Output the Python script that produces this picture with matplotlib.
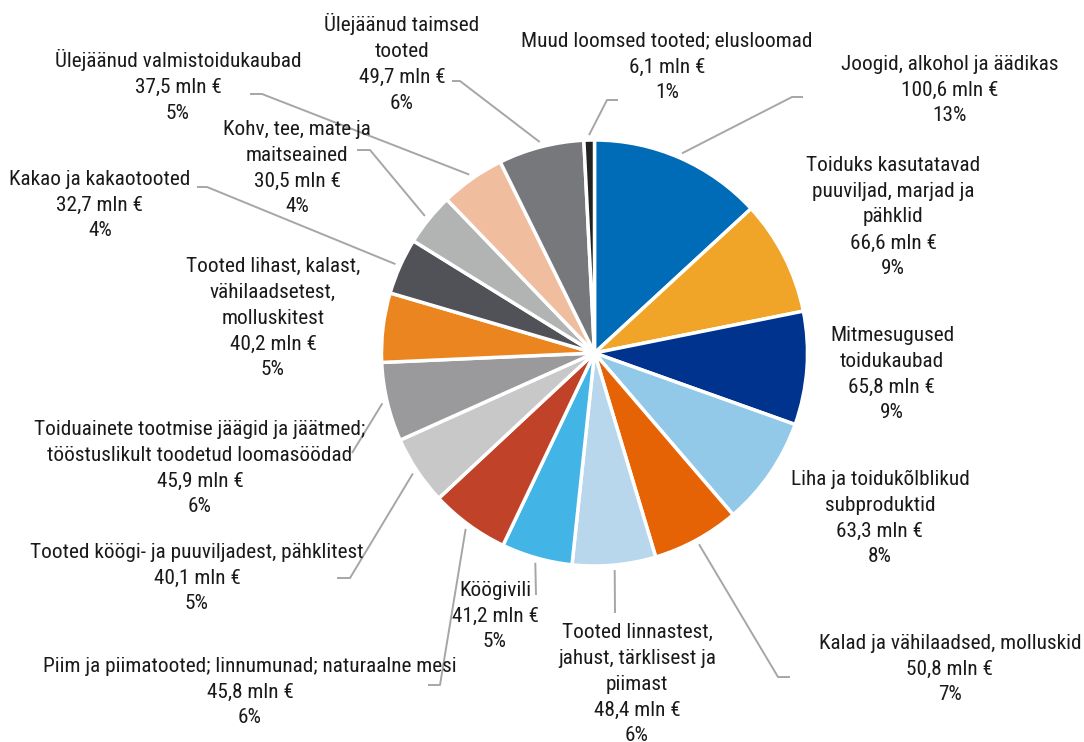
import matplotlib
matplotlib.use("Agg")
import matplotlib.pyplot as plt
from matplotlib import font_manager
import numpy as np


# data (mln €), clockwise from 12 o'clock
CATEGORIES = [
    "Joogid, alkohol ja äädikas",
    "Toiduks kasutatavad\npuuviljad, marjad ja\npähklid",
    "Mitmesugused\ntoidukaubad",
    "Liha ja toidukõlblikud\nsubproduktid",
    "Kalad ja vähilaadsed, molluskid",
    "Tooted linnastest,\njahust, tärklisest ja\npiimast",
    "Köögivili",
    "Piim ja piimatooted; linnumunad; naturaalne mesi",
    "Tooted köögi- ja puuviljadest, pähklitest",
    "Toiduainete tootmise jäägid ja jäätmed;\ntööstuslikult toodetud loomasöödad",
    "Tooted lihast, kalast,\nvähilaadsetest,\nmolluskitest",
    "Kakao ja kakaotooted",
    "Kohv, tee, mate ja\nmaitseained",
    "Ülejäänud valmistoidukaubad",
    "Ülejäänud taimsed\ntooted",
    "Muud loomsed tooted; elusloomad",
]
VALUES = [100.6, 66.6, 65.8, 63.3, 50.8, 48.4, 41.2, 45.8,
          40.1, 45.9, 40.2, 32.7, 30.5, 37.5, 49.7, 6.1]

COLORS = [
    "#006BB6", "#F0A428", "#00338D", "#92C8E8",
    "#E56205", "#B9D7EC", "#42B4E6", "#BF4229",
    "#C8C8C8", "#9A9A9C", "#EA8520", "#505257",
    "#B2B3B3", "#F0BE9E", "#76787B", "#222222",
]

# label layout in pixel coords (x, y from top)
LABEL_POS = [
    (950, 90), (893, 217), (892, 374), (880, 518),
    (950, 669), (637, 684), (495, 616), (250, 692),
    (197, 578), (200, 468), (273, 318), (100, 205),
    (297, 168), (178, 86), (402, 63), (667, 67),
]
# leader lines: (elbow x, elbow y, end x) or None
LEADERS = [
    (792, 97, 803), None, None, None,
    (778, 677, 790), (615, 613, 615), (536, 595, 536), (440, 685, 428),
    (350, 578, 337), (352, 453, 352), None, (207, 187, 197),
    (370, 150, 357), (262, 94, 250), (460, 81, 452), (607, 100, 618),
]

W, H = 1084, 742
CX, CY, R = 594.5, 353, 213


def pick_font(names):
    for name in names:
        try:
            font_manager.findfont(font_manager.FontProperties(family=name),
                                  fallback_to_default=False)
            return name
        except ValueError:
            continue
    return "DejaVu Sans"


def fmt_label(name, value, total):
    val = f"{value:.1f}".replace(".", ",")
    pct = int(round(value / total * 100))
    return f"{name}\n{val} mln €\n{pct}%"


def main():
    font = pick_font(["Roboto Condensed", "Liberation Sans Narrow", "Roboto"])
    plt.rcParams["font.family"] = [font, "DejaVu Sans"]

    fig = plt.figure(figsize=(W / 100, H / 100), dpi=100)
    ax = fig.add_axes([0, 0, 1, 1])

    # y axis runs downward, so counterclock in data = clockwise on screen
    ax.pie(VALUES, colors=COLORS, startangle=-90, counterclock=True,
           radius=R, center=(CX, CY),
           wedgeprops=dict(edgecolor="white", linewidth=2.5))
    ax.set_xlim(0, W)
    ax.set_ylim(H, 0)
    ax.set_aspect("equal")
    ax.axis("off")

    total = sum(VALUES)
    cum = np.cumsum([0] + VALUES)
    for i, (name, v) in enumerate(zip(CATEGORIES, VALUES)):
        mid = (cum[i] + v / 2) / total
        theta = np.deg2rad(-90 + 360 * mid)
        if LEADERS[i] is not None:
            ex, ey, endx = LEADERS[i]
            sx = CX + (R + 5) * np.cos(theta)
            sy = CY + (R + 5) * np.sin(theta)
            ax.plot([sx, ex, endx], [sy, ey, ey], color="#A6A6A6",
                    linewidth=1.4, solid_capstyle="butt", zorder=1)
        tx, ty = LABEL_POS[i]
        ax.text(tx, ty, fmt_label(name, v, total), ha="center", va="center",
                multialignment="center", fontsize=15.3, color="#1A1A1A",
                linespacing=1.46)

    fig.savefig("out.png", dpi=100)
    plt.close(fig)


if __name__ == "__main__":
    main()
